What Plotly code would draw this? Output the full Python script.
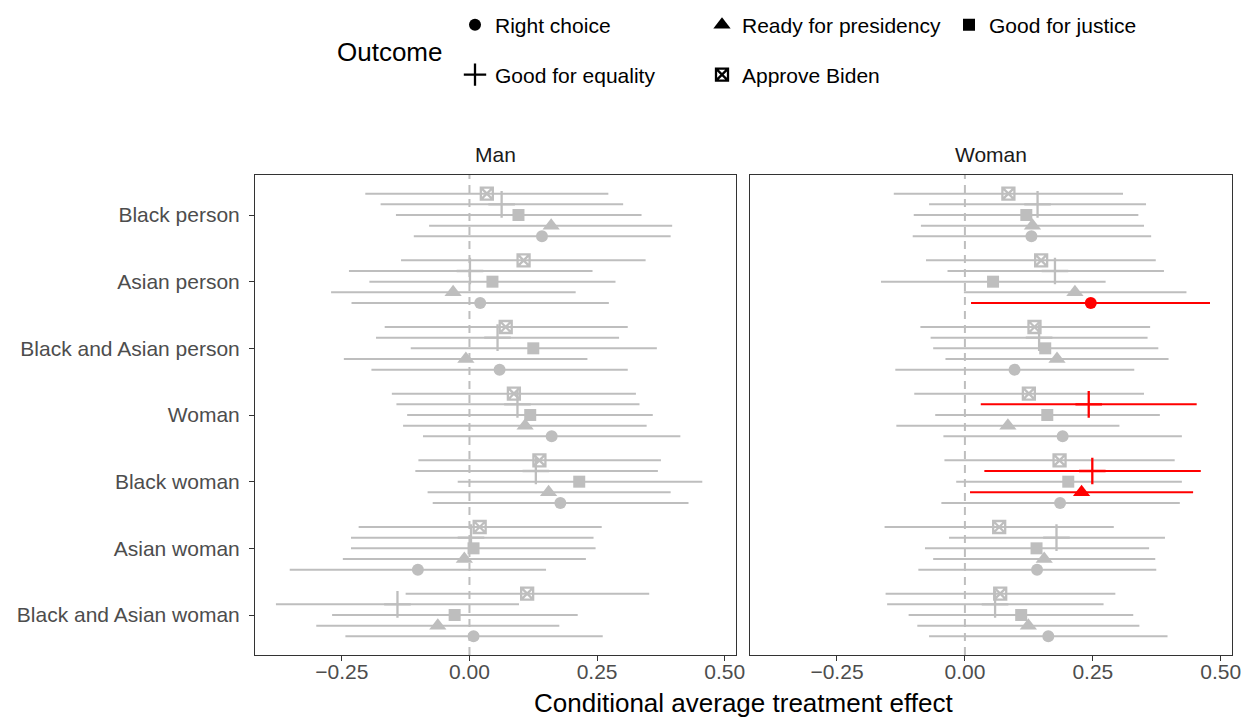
import plotly.graph_objects as go
import numpy as np

categories = ["Black person", "Asian person", "Black and Asian person", "Woman",
              "Black woman", "Asian woman", "Black and Asian woman"]
outcomes = ["Right choice", "Ready for presidency", "Good for justice",
            "Good for equality", "Approve Biden"]
panels = ["Man", "Woman"]

# ---- Man panel: estimates and 95% interval bounds (per category) ----
man_right_est = [0.142, 0.021, 0.059, 0.161, 0.178, -0.101, 0.008]
man_right_lo = [-0.109, -0.231, -0.192, -0.091, -0.072, -0.352, -0.243]
man_right_hi = [0.394, 0.273, 0.310, 0.413, 0.429, 0.150, 0.261]

man_ready_est = [0.160, -0.032, -0.007, 0.109, 0.155, -0.010, -0.062]
man_ready_lo = [-0.079, -0.271, -0.246, -0.130, -0.082, -0.248, -0.300]
man_ready_hi = [0.397, 0.208, 0.231, 0.347, 0.394, 0.228, 0.176]

man_justice_est = [0.096, 0.045, 0.125, 0.119, 0.215, 0.008, -0.029]
man_justice_lo = [-0.144, -0.196, -0.115, -0.122, -0.023, -0.232, -0.269]
man_justice_hi = [0.337, 0.286, 0.367, 0.359, 0.456, 0.247, 0.212]

man_equality_est = [0.063, 0.001, 0.055, 0.094, 0.130, 0.003, -0.141]
man_equality_lo = [-0.174, -0.236, -0.183, -0.143, -0.106, -0.232, -0.379]
man_equality_hi = [0.301, 0.241, 0.293, 0.333, 0.369, 0.243, 0.097]

man_biden_est = [0.034, 0.106, 0.071, 0.087, 0.137, 0.020, 0.113]
man_biden_lo = [-0.204, -0.134, -0.166, -0.152, -0.100, -0.217, -0.125]
man_biden_hi = [0.272, 0.345, 0.310, 0.326, 0.375, 0.259, 0.352]

# ---- Woman panel ----
woman_right_est = [0.130, 0.246, 0.097, 0.191, 0.186, 0.141, 0.163]
woman_right_lo = [-0.102, 0.012, -0.136, -0.042, -0.046, -0.091, -0.070]
woman_right_hi = [0.364, 0.479, 0.331, 0.424, 0.420, 0.374, 0.396]

woman_ready_est = [0.132, 0.215, 0.180, 0.084, 0.228, 0.155, 0.124]
woman_ready_lo = [-0.086, -0.002, -0.038, -0.134, 0.010, -0.062, -0.093]
woman_ready_hi = [0.350, 0.433, 0.398, 0.302, 0.446, 0.372, 0.341]

woman_justice_est = [0.120, 0.055, 0.157, 0.161, 0.202, 0.140, 0.110]
woman_justice_lo = [-0.100, -0.164, -0.062, -0.058, -0.017, -0.078, -0.110]
woman_justice_hi = [0.339, 0.275, 0.378, 0.381, 0.424, 0.360, 0.329]

woman_equality_est = [0.142, 0.176, 0.145, 0.242, 0.249, 0.179, 0.059]
woman_equality_lo = [-0.070, -0.034, -0.067, 0.031, 0.038, -0.031, -0.152]
woman_equality_hi = [0.354, 0.389, 0.357, 0.453, 0.461, 0.391, 0.271]

woman_biden_est = [0.085, 0.149, 0.136, 0.125, 0.185, 0.067, 0.069]
woman_biden_lo = [-0.139, -0.076, -0.087, -0.099, -0.040, -0.157, -0.155]
woman_biden_hi = [0.309, 0.373, 0.362, 0.350, 0.410, 0.291, 0.294]

x_tick_vals = [-0.25, 0.0, 0.25, 0.50]

data = {
    "Man": {
        "Right choice": (man_right_est, man_right_lo, man_right_hi),
        "Ready for presidency": (man_ready_est, man_ready_lo, man_ready_hi),
        "Good for justice": (man_justice_est, man_justice_lo, man_justice_hi),
        "Good for equality": (man_equality_est, man_equality_lo, man_equality_hi),
        "Approve Biden": (man_biden_est, man_biden_lo, man_biden_hi),
    },
    "Woman": {
        "Right choice": (woman_right_est, woman_right_lo, woman_right_hi),
        "Ready for presidency": (woman_ready_est, woman_ready_lo, woman_ready_hi),
        "Good for justice": (woman_justice_est, woman_justice_lo, woman_justice_hi),
        "Good for equality": (woman_equality_est, woman_equality_lo, woman_equality_hi),
        "Approve Biden": (woman_biden_est, woman_biden_lo, woman_biden_hi),
    },
}

# ---- styles ----
GRAY = "#BEBEBE"
RED = "#FF0000"
FONT = "Liberation Sans, Arial, Helvetica, sans-serif"
dodge = {"Approve Biden": -0.32, "Good for equality": -0.16, "Good for justice": 0.0,
         "Ready for presidency": 0.16, "Right choice": 0.32}
symbols = {
    "Right choice": dict(symbol="circle", size=12, lw=0),
    "Ready for presidency": dict(symbol="triangle-up", size=15, lw=0),
    "Good for justice": dict(symbol="square", size=12, lw=0),
    "Good for equality": dict(symbol="cross-thin-open", size=19, lw=2.3),
    "Approve Biden": dict(symbol="square-x-open", size=12, lw=2.3),
}


def marker_for(outcome, color):
    s = symbols[outcome]
    return dict(symbol=s["symbol"], size=s["size"], color=color,
                line=dict(width=s["lw"], color=color))


fig = go.Figure()
axes = {"Man": ("x", "y"), "Woman": ("x2", "y2")}
draw_order = ["Approve Biden", "Good for equality", "Good for justice",
              "Ready for presidency", "Right choice"]

for sig_pass in (False, True):
    for panel in panels:
        xa, ya = axes[panel]
        for outcome in draw_order:
            est, lo, hi = (np.array(a, dtype=float) for a in data[panel][outcome])
            sig = (lo > 0) | (hi < 0)
            mask = sig if sig_pass else ~sig
            if not mask.any():
                continue
            idx = np.arange(len(categories))[mask]
            color = RED if sig_pass else GRAY
            fig.add_trace(go.Scatter(
                x=est[mask], y=idx + dodge[outcome], mode="markers",
                xaxis=xa, yaxis=ya, showlegend=False, hoverinfo="skip",
                marker=marker_for(outcome, color),
                error_x=dict(type="data", symmetric=False,
                             array=(hi - est)[mask], arrayminus=(est - lo)[mask],
                             color=color, thickness=2, width=0),
            ))

# legend entries (black keys)
for i, outcome in enumerate(outcomes):
    fig.add_trace(go.Scatter(
        x=[None], y=[None], mode="markers", name=outcome,
        marker=marker_for(outcome, "black"),
        legend="legend" if i < 3 else "legend2", showlegend=True,
    ))

# ---- layout ----
W, H = 1254, 719
ml, mr, mt, mb = 255, 22, 175, 64
pw = W - ml - mr
ph = H - mt - mb
d1 = (0.0, (736 - ml) / pw)
d2 = ((750 - ml) / pw, 1.0)

xcommon = dict(range=[-0.42, 0.522], tickvals=x_tick_vals, tickformat=".2f",
               showgrid=False, zeroline=False, showline=True, mirror=True,
               linecolor="#333333", linewidth=1, ticks="outside", ticklen=5,
               tickcolor="#333333", tickwidth=1, ticklabelstandoff=-7,
               tickfont=dict(family=FONT, size=21, color="#4D4D4D"))
ycommon = dict(range=[len(categories) - 0.4, -0.6], tickvals=list(range(len(categories))),
               ticktext=categories, showgrid=False, zeroline=False, showline=True,
               mirror=True, linecolor="#333333", linewidth=1,
               tickfont=dict(family=FONT, size=21, color="#4D4D4D"))

fig.update_layout(
    width=W, height=H, margin=dict(l=ml, r=mr, t=mt, b=mb, autoexpand=False),
    paper_bgcolor="white", plot_bgcolor="white",
    font=dict(family=FONT),
    xaxis=dict(domain=list(d1), anchor="y", **xcommon),
    xaxis2=dict(domain=list(d2), anchor="y2", **xcommon),
    yaxis=dict(domain=[0, 1], anchor="x", ticks="outside", ticklen=5,
               tickcolor="#333333", tickwidth=1, ticklabelstandoff=5, **ycommon),
    yaxis2=dict(domain=[0, 1], anchor="x2", matches="y", showticklabels=False,
                ticks="", **ycommon),
    legend=dict(orientation="h", x=(455 - ml) / pw, xanchor="left",
                y=1 + (mt - 25) / ph, yanchor="middle", entrywidth=202,
                font=dict(family=FONT, size=21, color="black"),
                bgcolor="rgba(0,0,0,0)", itemclick=False),
    legend2=dict(orientation="h", x=(455 - ml) / pw, xanchor="left",
                 y=1 + (mt - 75) / ph, yanchor="middle", entrywidth=202,
                 font=dict(family=FONT, size=21, color="black"),
                 bgcolor="rgba(0,0,0,0)", itemclick=False),
    showlegend=True,
)

# dashed zero reference lines
for xa in ("x", "x2"):
    fig.add_shape(type="line", xref=xa, yref="paper", x0=0, x1=0, y0=0, y1=1,
                  line=dict(color=GRAY, width=2, dash="8px,6px"), layer="below")

# strip labels
for panel, dom in zip(panels, (d1, d2)):
    fig.add_annotation(text=panel, xref="paper", yref="paper",
                       x=(dom[0] + dom[1]) / 2, y=1 + 20 / ph, xanchor="center",
                       yanchor="middle", showarrow=False,
                       font=dict(family=FONT, size=21, color="#1A1A1A"))

# axis title
fig.add_annotation(text="Conditional average treatment effect", xref="paper",
                   yref="paper", x=0.5, y=-(703 - (H - mb)) / ph, xanchor="center",
                   yanchor="middle", showarrow=False,
                   font=dict(family=FONT, size=26, color="black"))

# legend title
fig.add_annotation(text="Outcome", xref="paper", yref="paper",
                   x=(335 - ml) / pw, y=1 + (mt - 52) / ph, xanchor="left",
                   yanchor="middle", showarrow=False,
                   font=dict(family=FONT, size=26, color="black"))

fig.write_html("out.html")
